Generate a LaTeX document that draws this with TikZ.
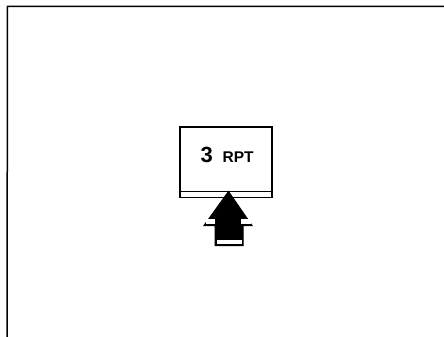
\documentclass[tikz,border=0pt]{standalone}
\usepackage{fontspec}
\setmainfont{Liberation Sans}
\usetikzlibrary{positioning}
\definecolor{PanelBlack}{HTML}{000000}
\definecolor{PanelWhite}{HTML}{ffffff}
\tikzset{
    % Outer frame lines
    frame/.style={
        draw=PanelBlack,
        line width=1.5pt
    },
    % Display window
    display/.style={
        rectangle,
        draw=PanelBlack,
        fill=PanelWhite,
        line width=1.2pt,
        minimum width=92pt,
        minimum height=70.5pt,
        inner sep=0pt
    },
    % Pointer arrow
    pointer/.style={
        fill=PanelBlack,
        draw=PanelBlack,
        line width=1pt,
        line join=miter
    },
    % Highlight stripes inside the arrow
    stripe/.style={
        fill=PanelWhite
    },
    % Readout digits and unit
    digit/.style={font=\fontsize{22}{22}\selectfont\bfseries},
    unit/.style={font=\fontsize{15.5}{15.5}\selectfont\bfseries}
}
\begin{document}
\begin{tikzpicture}[x=1pt, y=-1pt]
        \useasboundingbox (0,0) rectangle (444,337);

        % Frame (top and left)
        \draw [frame] (444,6.5) -- (7.5,6.5) -- (7,337);

        % Display window with its lower rule
        \node (disp) [display] at (226,162.25) {};
        \draw [line width=0.8pt] ([yshift=6.5pt]disp.south west) -- ([yshift=6.5pt]disp.south east);

        % Readout
        \node (num) [digit, anchor=base west, inner sep=0pt] at (200.5,162) {3};
        \node (rpt) [unit, anchor=base west, inner sep=0pt] at (222.5,162) {RPT};

        % Arrow pointing at the window
        \coordinate (tip) at (228.5,191.5);
        \draw [pointer] (tip) -- (252,225.5) -- (243,225.5) -- (243,245.5)
            -- (215,245.5) -- (215,225.5) -- (204,225.5) -- cycle;
        \fill [stripe] (205.5,218.5) rectangle (215,223.8);
        \fill [stripe] (241,218.5) rectangle (250.5,223.8);
        \fill [stripe] (216.7,240) rectangle (242,244);
    \end{tikzpicture}
\end{document}
